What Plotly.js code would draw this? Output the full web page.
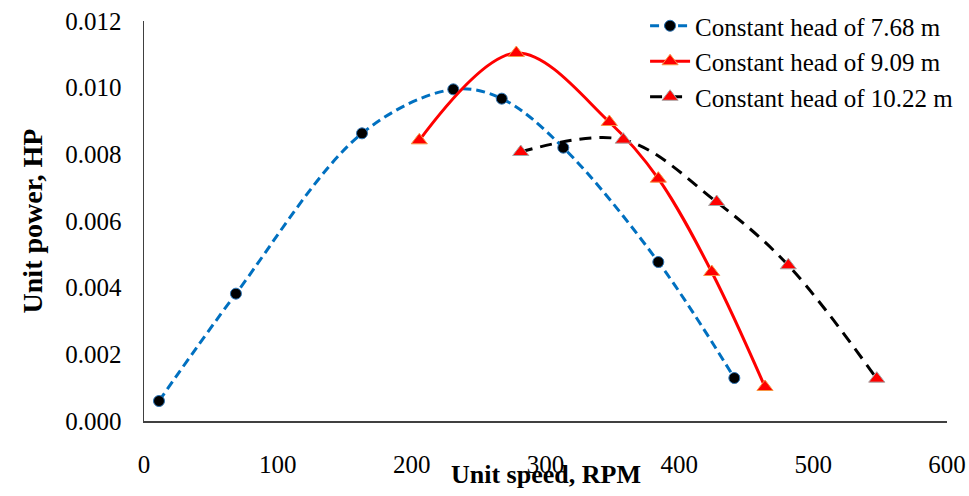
<!DOCTYPE html>
<html>
<head>
<meta charset="utf-8">
<script src="https://cdn.plot.ly/plotly-3.0.1.min.js"></script>
<style>html,body{margin:0;padding:0;background:#fff;}#chart{width:969px;height:496px;}</style>
</head>
<body>
<div id="chart"></div>
<script>
// Unit speed (RPM) and unit power (HP)
const speedHead768 = [11.2, 68.7, 162.9, 231.1, 267.3, 313.3, 384.3, 441.1];
const powerHead768 = [0.00060, 0.00382, 0.00863, 0.00995, 0.00967, 0.00820, 0.00477, 0.00129];

const speedHead909 = [205.7, 278.2, 347.7, 384.3, 424.2, 464.0];
const powerHead909 = [0.00842, 0.01104, 0.00897, 0.00727, 0.00447, 0.00102];

const speedHead1022 = [281.5, 358.1, 427.9, 481.4, 547.5];
const powerHead1022 = [0.00807, 0.00844, 0.00657, 0.00467, 0.00127];

const seriesNames = ["Constant head of 7.68 m", "Constant head of 9.09 m", "Constant head of 10.22 m"];
const xTickVals = [0, 100, 200, 300, 400, 500, 600];
const yTickVals = [0, 0.002, 0.004, 0.006, 0.008, 0.010, 0.012];
const xTitle = "Unit speed, RPM";
const yTitle = "Unit power, HP";

const serif = "Liberation Serif";

const traces = [
  {
    x: speedHead768, y: powerHead768, name: seriesNames[0], type: "scatter", mode: "lines+markers",
    line: {color: "#0070C0", width: 3, dash: "9px,5px", shape: "spline", smoothing: 1},
    marker: {symbol: "circle", size: 11, color: "#000000", line: {color: "#2E75B6", width: 1}},
    cliponaxis: false
  },
  {
    x: speedHead909, y: powerHead909, name: seriesNames[1], type: "scatter", mode: "lines+markers",
    line: {color: "#FF0000", width: 3, shape: "spline", smoothing: 1},
    marker: {symbol: "triangle-up", size: 14, color: "#FF0000", line: {color: "#F79646", width: 1}},
    cliponaxis: false
  },
  {
    x: speedHead1022, y: powerHead1022, name: seriesNames[2], type: "scatter", mode: "lines+markers",
    line: {color: "#000000", width: 3, dash: "12px,8px", shape: "spline", smoothing: 1},
    marker: {symbol: "triangle-up", size: 14, color: "#FF0000", line: {color: "#A6A6A6", width: 1}},
    cliponaxis: false
  }
];

const layout = {
  width: 969, height: 496,
  margin: {l: 144, r: 22, t: 21, b: 75, autoexpand: false},
  paper_bgcolor: "#ffffff", plot_bgcolor: "#ffffff",
  font: {family: serif, size: 25, color: "#000000"},
  showlegend: true,
  legend: {
    x: 0.624, y: 1.045, xanchor: "left", yanchor: "top",
    bgcolor: "rgba(255,255,255,0)", font: {family: serif, size: 25, color: "#000"},
    tracegroupgap: 0, itemwidth: 40
  },
  xaxis: {
    range: [0, 600], tickvals: xTickVals, ticktext: xTickVals.map(String),
    showgrid: false, zeroline: false, showline: true, linecolor: "#404040", linewidth: 1.5,
    ticks: "", ticklabelstandoff: 20, tickfont: {family: serif, size: 25}
  },
  yaxis: {
    range: [0, 0.012], tickvals: yTickVals, ticktext: yTickVals.map(v => v.toFixed(3)),
    showgrid: false, zeroline: false, showline: true, linecolor: "#404040", linewidth: 1.5,
    ticks: "", ticklabelstandoff: 16, tickfont: {family: serif, size: 25},
    title: {text: "<b>" + yTitle + "</b>", font: {family: serif, size: 28}, standoff: 14}
  },
  annotations: [
    {
      text: "<b>" + xTitle + "</b>", xref: "paper", yref: "paper", x: 0.5, y: -0.133,
      xanchor: "center", yanchor: "middle", showarrow: false,
      font: {family: serif, size: 26, color: "#000"}
    }
  ]
};

Plotly.newPlot("chart", traces, layout, {displayModeBar: false, staticPlot: true});
</script>
</body>
</html>
